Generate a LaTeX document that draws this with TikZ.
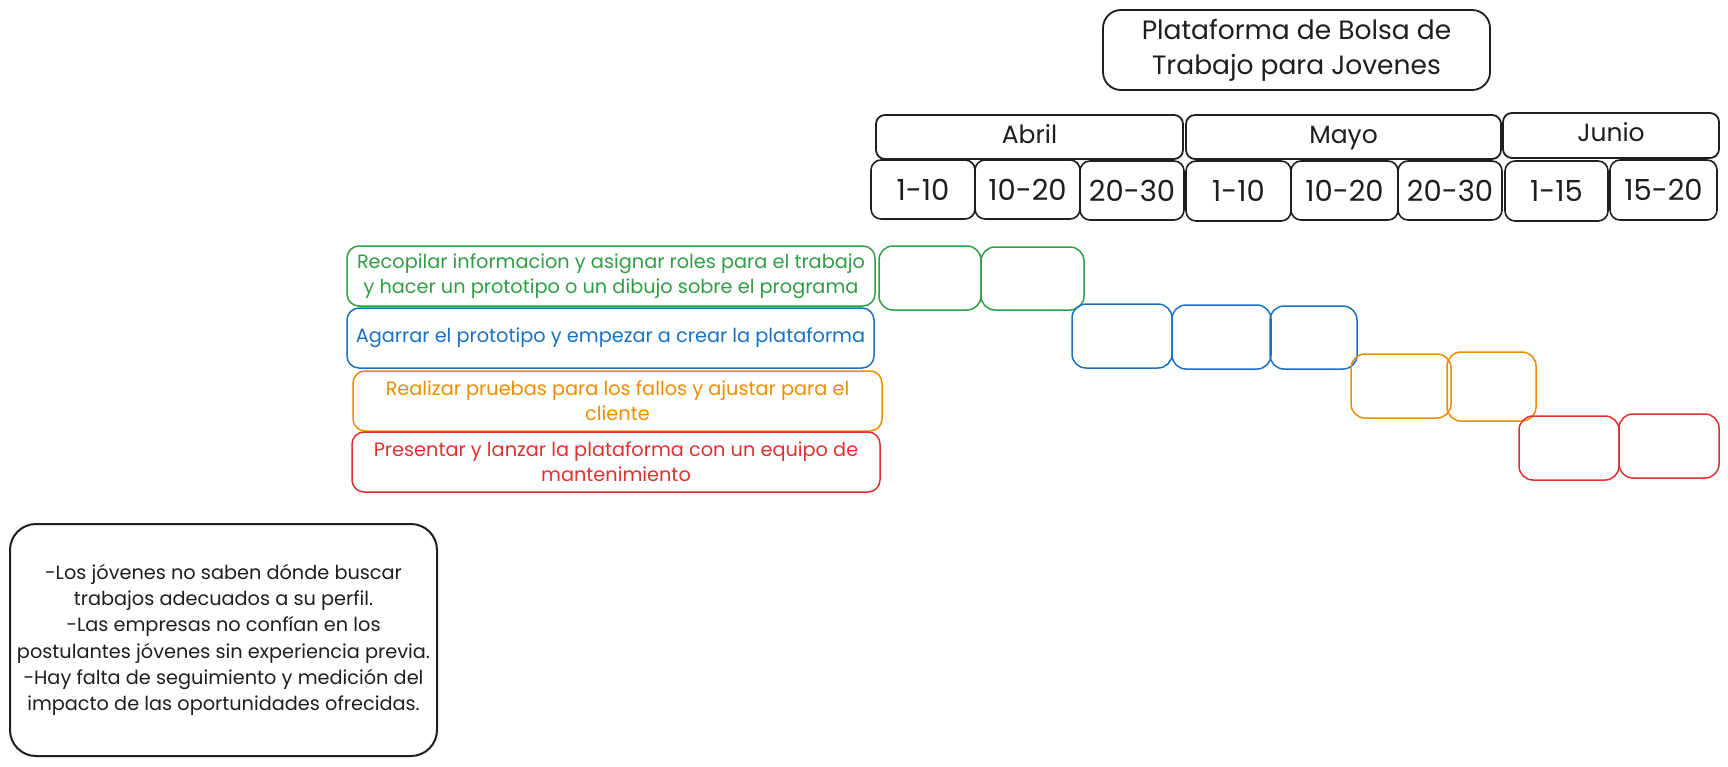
\documentclass[tikz,border=0pt]{standalone}
\usepackage{fontspec}
\setmainfont{Poppins}
\definecolor{ink}{HTML}{1E1E1E}
\definecolor{exgreen}{HTML}{2F9E44}
\definecolor{exblue}{HTML}{1971C2}
\definecolor{exorange}{HTML}{F08C00}
\definecolor{exred}{HTML}{E03131}
\newcommand\rbx[7]{%
  \pgfmathsetmacro\bxw{#5-#3}\pgfmathsetmacro\bxh{#6-#4}%
  \pgfmathsetmacro\bxx{(#3+#5)/2}\pgfmathsetmacro\bxy{(#4+#6)/2}%
  \node[#1, minimum width=\bxw pt, minimum height=\bxh pt] (#2) at (\bxx,\bxy) {#7};}
\begin{document}
\begin{tikzpicture}[x=1pt,y=-1pt,
  base/.style={draw, inner sep=0pt, align=center, rounded corners=13pt},
  blk/.style={base, draw=ink, line width=1.8pt, text=ink},
  titlebox/.style={blk, rounded corners=18pt, font=\fontsize{26.5}{35}\selectfont},
  monthbox/.style={blk, rounded corners=9pt, text height=18pt, text depth=6pt, font=\fontsize{25}{28}\selectfont},
  datebox/.style={blk, line width=1.6pt, rounded corners=10pt, font=\fontsize{29}{32}\selectfont},
  notebox/.style={blk, rounded corners=26pt, line width=2pt, font=\fontsize{19.3}{26.3}\selectfont},
  taskbox/.style={base, line width=1.5pt, rounded corners=12pt, font=\fontsize{19.3}{25}\selectfont},
  cell/.style={base, line width=1.5pt, rounded corners=14pt},
  gbox/.style={draw=exgreen, text=exgreen},
  bbox/.style={draw=exblue, text=exblue},
  obox/.style={draw=exorange, text=exorange},
  rbox/.style={draw=exred, text=exred}]
\useasboundingbox (0,0) rectangle (1728,766);
\fill[white] (0,0) rectangle (1728,766);

% title
\rbx{titlebox}{title}{1103}{10}{1490}{90}{Plataforma de Bolsa de\\Trabajo para Jovenes}

% months
\rbx{monthbox}{abril}{876}{115}{1183}{159}{Abril}
\rbx{monthbox}{mayo}{1186}{115}{1501}{159}{Mayo}
\rbx{monthbox}{junio}{1503}{113}{1719}{158}{Junio}

% dates
\rbx{datebox}{d1}{871}{160}{975}{219}{1-10}
\rbx{datebox}{d2}{975}{160}{1080}{219}{10-20}
\rbx{datebox}{d3}{1080}{161}{1184}{220}{20-30}
\rbx{datebox}{d4}{1186}{161}{1291}{221}{1-10}
\rbx{datebox}{d5}{1291}{161}{1398}{220}{10-20}
\rbx{datebox}{d6}{1398}{161}{1502}{220}{20-30}
\rbx{datebox}{d7}{1505}{161}{1608}{221}{1-15}
\rbx{datebox}{d8}{1610}{160}{1717}{220}{15-20}

% tasks
\rbx{taskbox, gbox}{t1}{347}{246}{875}{306}{Recopilar informacion y asignar roles para el trabajo\\y hacer un prototipo o un dibujo sobre el programa}
\rbx{taskbox, bbox}{t2}{347}{308}{874}{368}{Agarrar el prototipo y empezar a crear la plataforma}
\rbx{taskbox, obox}{t3}{353}{371}{882}{431}{Realizar pruebas para los fallos y ajustar para el\\cliente}
\rbx{taskbox, rbox}{t4}{352}{432}{880}{492}{Presentar y lanzar la plataforma con un equipo de\\mantenimiento}

% gantt cells
\rbx{cell, gbox}{g1}{879}{246}{981}{310}{}
\rbx{cell, gbox}{g2}{981}{247}{1084}{310}{}
\rbx{cell, bbox}{b1}{1072}{304}{1172}{368}{}
\rbx{cell, bbox}{b2}{1172}{305}{1271}{369}{}
\rbx{cell, bbox}{b3}{1270}{306}{1357}{369}{}
\rbx{cell, obox}{o1}{1351}{354}{1451}{418}{}
\rbx{cell, obox}{o2}{1447}{352}{1536}{421}{}
\rbx{cell, rbox}{r1}{1519}{416}{1619}{480}{}
\rbx{cell, rbox}{r2}{1619}{414}{1719}{478}{}

% note
\rbx{notebox}{note}{10}{524}{437}{756}{-Los jóvenes no saben dónde buscar\\trabajos adecuados a su perfil.\\-Las empresas no confían en los\\postulantes jóvenes sin experiencia previa.\\-Hay falta de seguimiento y medición del\\impacto de las oportunidades ofrecidas.}
\end{tikzpicture}
\end{document}
